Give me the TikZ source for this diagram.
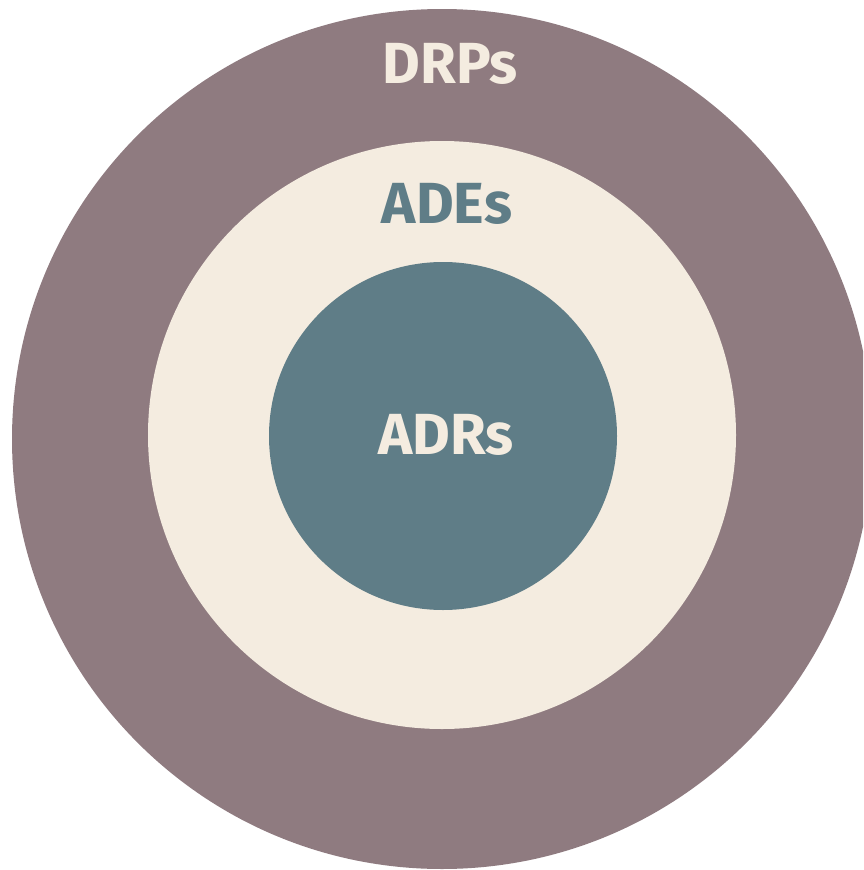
\documentclass[tikz,border=0pt]{standalone}
\usepackage{fontspec}
\setmainfont{Fira Sans}
\definecolor{drpcol}{HTML}{8F7B80}
\definecolor{adecol}{HTML}{F4ECE0}
\definecolor{adrcol}{HTML}{5F7D87}
\begin{document}
\begin{tikzpicture}[x=1pt,y=-1pt,
  ring/.style={circle,inner sep=0pt,draw=none},
  lbl/.style={font=\bfseries\fontsize{58}{62}\selectfont,inner sep=0pt,anchor=base}]
\useasboundingbox (0,0) rectangle (863,870);
\clip (0,0) rectangle (863,870);
\node[ring,fill=drpcol,minimum size=860pt] (drp) at (442,439) {};
\node[ring,fill=adecol,minimum size=588pt] (ade) at (442,435) {};
\node[ring,fill=adrcol,minimum size=348pt] (adr) at (443,436) {};
\node[lbl,text=adecol] (tdrp) at (450,83) {DRPs};
\node[lbl,text=adrcol] (tade) at (447,223) {ADEs};
\node[lbl,text=adecol] (tadr) at (446,454) {ADRs};
\end{tikzpicture}
\end{document}
